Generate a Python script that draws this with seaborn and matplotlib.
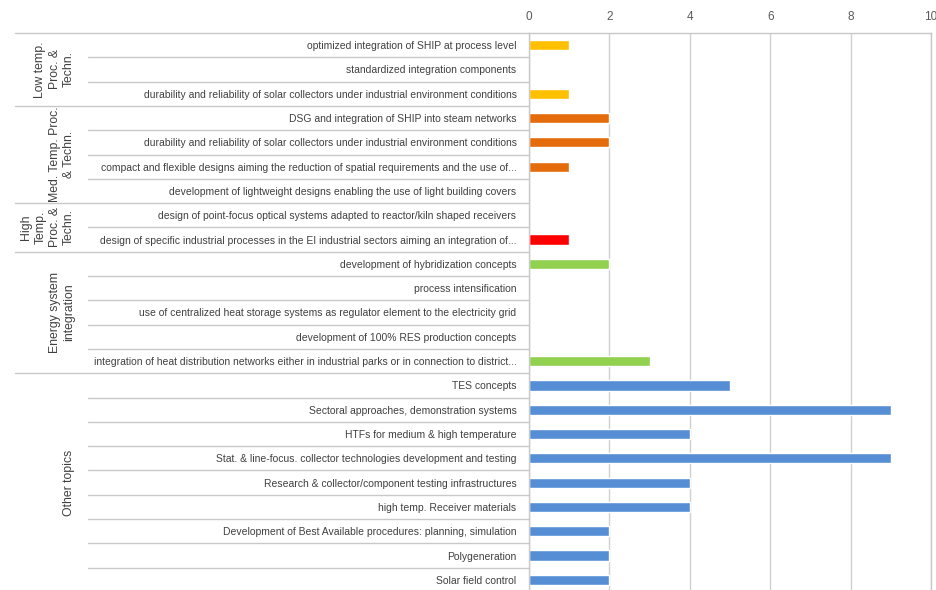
import numpy as np
import pandas as pd
import matplotlib
matplotlib.use("Agg")
import matplotlib.pyplot as plt
import matplotlib.transforms as mtransforms
import seaborn as sns

# du lieu doc tu hinh
groups = ["Low temp.\nProc. &\nTechn.",
          "Med. Temp. Proc.\n& Techn.",
          "High\nTemp.\nProc. &\nTechn.",
          "Energy system\nintegration",
          "Other topics"]
group_sizes = [3, 4, 2, 5, 9]
group_colors = ["#FFC000", "#E46C0A", "#FF0000", "#92D050", "#558ED5"]

topics = [
    "optimized integration of SHIP at process level",
    "standardized integration components",
    "durability and reliability of solar collectors under industrial environment conditions",
    "DSG and integration of SHIP into steam networks",
    "durability and reliability of solar collectors under industrial environment conditions",
    "compact and flexible designs aiming the reduction of spatial requirements and the use of...",
    "development of lightweight designs enabling the use of light building covers",
    "design of point-focus optical systems adapted to reactor/kiln shaped receivers",
    "design of specific industrial processes in the EI industrial sectors aiming an integration of...",
    "development of hybridization concepts",
    "process intensification",
    "use of centralized heat storage systems as regulator element to the electricity grid",
    "development of 100% RES production concepts",
    "integration of heat distribution networks either in industrial parks or in connection to district...",
    "TES concepts",
    "Sectoral approaches, demonstration systems",
    "HTFs for medium & high temperature",
    "Stat. & line-focus. collector technologies development and testing",
    "Research & collector/component testing infrastructures",
    "high temp. Receiver materials",
    "Development of Best Available procedures: planning, simulation",
    "Polygeneration",
    "Solar field control",
]
counts = [1, 0, 1,
          2, 2, 1, 0,
          0, 1,
          2, 0, 0, 0, 3,
          5, 9, 4, 9, 4, 4, 2, 2, 2]

sns.set_style("white")
plt.rcParams["font.family"] = ["Liberation Sans", "DejaVu Sans"]

group_col = []
for g, n in zip(groups, group_sizes):
    group_col += [g] * n
df = pd.DataFrame({"pos": np.arange(len(topics)), "topic": topics,
                   "count": counts, "group": group_col})

W, H = 937, 590
fig = plt.figure(figsize=(W / 100, H / 100), dpi=100)
# truc: tren o y=33, moi dong ~24.3 px
ax = fig.add_axes([529 / W, -2 / H, (931 - 529) / W, 559 / H])

sns.barplot(data=df, x="count", y="pos", hue="group", orient="h",
            native_scale=True, dodge=False, width=0.42, saturation=1,
            palette=dict(zip(groups, group_colors)), legend=False, ax=ax)

ax.set_xlim(0, 10)
ax.set_ylim(22.5, -0.5)
ax.set_xticks(range(0, 11, 2))
ax.xaxis.tick_top()
ax.tick_params(axis="x", length=0, pad=7, labelsize=8.5, colors="#595959")
ax.set_yticks(df["pos"], df["topic"])
ax.tick_params(axis="y", length=0, pad=9, labelsize=7.5, colors="#404040")
ax.set_xlabel("")
ax.set_ylabel("")
ax.grid(axis="x", color="#D0D0D0", lw=1)
ax.set_axisbelow(True)
for s in ["left", "top", "right"]:
    ax.spines[s].set_color("#C8C8C8")
    ax.spines[s].set_linewidth(1)
ax.spines["bottom"].set_visible(False)

# duong ke bang phia ben trai
tr = mtransforms.blended_transform_factory(fig.transFigure, ax.transData)
starts = np.cumsum([0] + group_sizes[:-1])
ends = np.cumsum(group_sizes)
ax.plot([15 / W, 529 / W], [-0.5, -0.5], transform=tr, color="#C8C8C8", lw=1, clip_on=False)
for g, s, e in zip(groups, starts, ends):
    for k in range(s + 1, e):
        ax.plot([88 / W, 529 / W], [k - 0.5, k - 0.5], transform=tr,
                color="#C8C8C8", lw=1, clip_on=False)
    if e < len(topics):
        ax.plot([15 / W, 529 / W], [e - 0.5, e - 0.5], transform=tr,
                color="#C8C8C8", lw=1, clip_on=False)
    ax.text(75 / W, (s + e - 1) / 2, g, transform=tr, rotation=90,
            ha="right", va="center", multialignment="center",
            fontsize=8.8, color="#404040", linespacing=1.25)

fig.savefig("out.png", dpi=100)
